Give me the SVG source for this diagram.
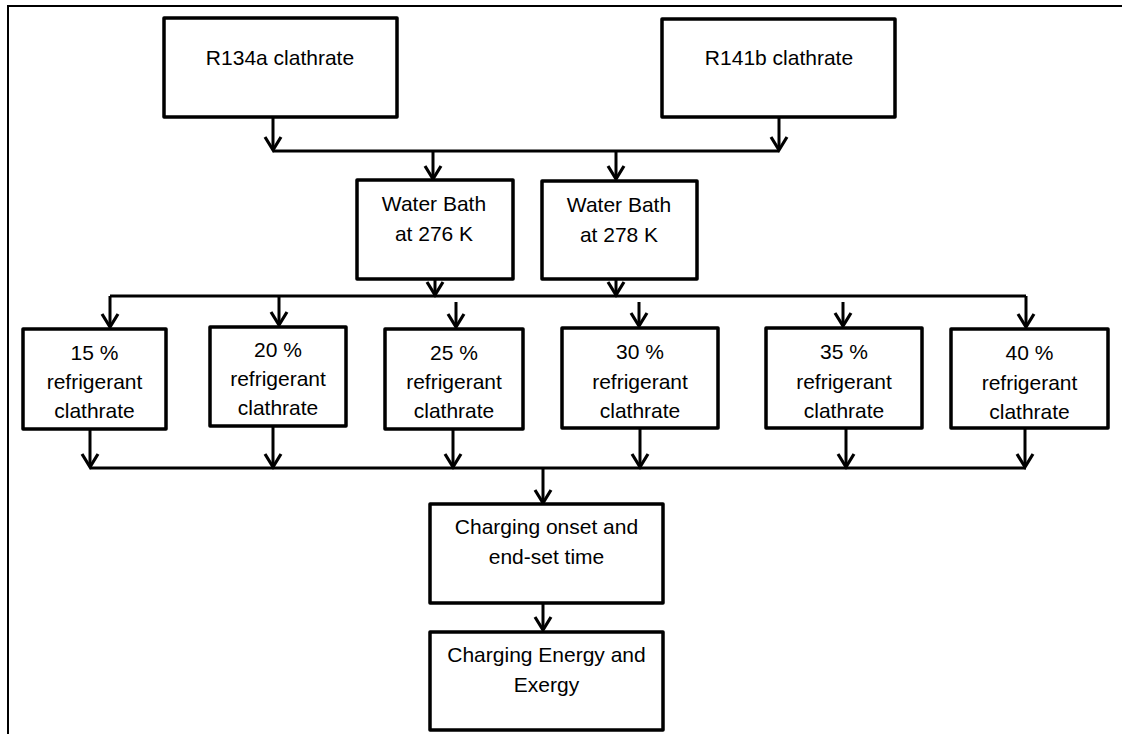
<svg xmlns="http://www.w3.org/2000/svg" width="1122" height="734" viewBox="0 0 1122 734">
<style>
.box{fill:#fff;stroke:#000;stroke-width:3.5;stroke-linejoin:round}
.ln{fill:none;stroke:#000;stroke-width:3}
.ar{fill:none;stroke:#000;stroke-width:3;marker-end:url(#ah)}
text{font-family:"Liberation Sans",Arial,sans-serif;font-size:21px;fill:#000;text-anchor:middle}
</style>
<defs>
<marker id="ah" markerUnits="userSpaceOnUse" orient="auto" refX="0" refY="0" markerWidth="20" markerHeight="20" overflow="visible">
<path d="M-13,-8 L0,0 L-13,8" fill="none" stroke="#000" stroke-width="3.2" stroke-linejoin="miter"/>
</marker>
</defs>
<rect x="8" y="6" width="1140" height="760" fill="#fff" stroke="#000" stroke-width="2"/>

<g id="connectors">
<path class="ar" d="M273,117 V150"/>
<path class="ar" d="M779,117 V150"/>
<path class="ln" d="M273,151 H779"/>
<path class="ar" d="M433,151 V179"/>
<path class="ar" d="M616,151 V179"/>
<path class="ar" d="M435,279 V295"/>
<path class="ar" d="M616,279 V295"/>
<path class="ln" d="M110,296 H1026"/>
<path class="ar" d="M110,296 V327"/>
<path class="ar" d="M279,296 V325"/>
<path class="ar" d="M456,302 V327"/>
<path class="ar" d="M639,302 V326"/>
<path class="ar" d="M843,302 V326"/>
<path class="ar" d="M1026,296 V327"/>
<path class="ar" d="M90,429 V467"/>
<path class="ar" d="M273,426 V467"/>
<path class="ar" d="M453,429 V467"/>
<path class="ar" d="M640,428 V467"/>
<path class="ar" d="M846,428 V467"/>
<path class="ar" d="M1025,428 V467"/>
<path class="ln" d="M90,468 H1026"/>
<path class="ar" d="M543,468 V503"/>
<path class="ar" d="M543,603 V630"/>
</g>

<g id="r134a"><rect class="box" x="164" y="18" width="233" height="99"/><text x="280" y="65">R134a clathrate</text></g>
<g id="r141b"><rect class="box" x="662" y="19" width="233" height="98"/><text x="779" y="65">R141b clathrate</text></g>

<g id="wb276"><rect class="box" x="357" y="180" width="156" height="99"/><text x="434" y="211">Water Bath</text><text x="434" y="241">at 276 K</text></g>
<g id="wb278"><rect class="box" x="542" y="181" width="155" height="98"/><text x="619" y="212">Water Bath</text><text x="619" y="242">at 278 K</text></g>

<g id="p15"><rect class="box" x="23" y="329" width="143" height="100"/><text x="94.5" y="360">15 %</text><text x="94.5" y="389">refrigerant</text><text x="94.5" y="418">clathrate</text></g>
<g id="p20"><rect class="box" x="210" y="327" width="136" height="99"/><text x="278" y="357">20 %</text><text x="278" y="386">refrigerant</text><text x="278" y="415">clathrate</text></g>
<g id="p25"><rect class="box" x="385" y="329" width="138" height="100"/><text x="454" y="360">25 %</text><text x="454" y="389">refrigerant</text><text x="454" y="418">clathrate</text></g>
<g id="p30"><rect class="box" x="562" y="328" width="156" height="100"/><text x="640" y="359">30 %</text><text x="640" y="389">refrigerant</text><text x="640" y="418">clathrate</text></g>
<g id="p35"><rect class="box" x="766" y="328" width="156" height="100"/><text x="844" y="359">35 %</text><text x="844" y="389">refrigerant</text><text x="844" y="418">clathrate</text></g>
<g id="p40"><rect class="box" x="951" y="329" width="157" height="99"/><text x="1029.5" y="360">40 %</text><text x="1029.5" y="390">refrigerant</text><text x="1029.5" y="419">clathrate</text></g>

<g id="charging-time"><rect class="box" x="430" y="504" width="233" height="99"/><text x="546.5" y="534">Charging onset and</text><text x="546.5" y="564">end-set time</text></g>
<g id="charging-energy"><rect class="box" x="430" y="632" width="233" height="98"/><text x="546.5" y="662">Charging Energy and</text><text x="546.5" y="692">Exergy</text></g>
</svg>
